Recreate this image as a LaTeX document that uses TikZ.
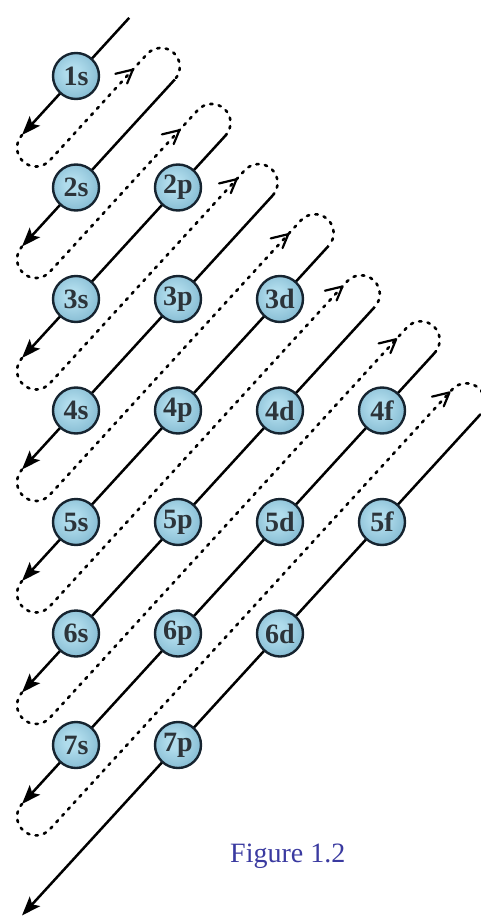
\documentclass[tikz,border=0pt]{standalone}
\usepackage{fontspec}
\setmainfont{Liberation Serif}
\usetikzlibrary{arrows.meta}
\definecolor{bin}{RGB}{176,220,236}
\definecolor{bout}{RGB}{92,156,186}
\definecolor{rimc}{RGB}{22,36,48}
\definecolor{txtc}{RGB}{44,52,58}
\definecolor{figblue}{RGB}{58,58,160}
\pgfdeclareradialshading{orbshade}{\pgfpoint{-4bp}{4bp}}{color(0bp)=(bin); color(8bp)=(bin); color(50bp)=(bout); color(100bp)=(bout)}
\tikzset{
  orb/.style={circle, draw=rimc, line width=2.4pt, shade, shading=orbshade,
    minimum size=46pt, inner sep=0pt, text=txtc,
    font=\fontsize{28}{28}\selectfont\bfseries},
  fillline/.style={line width=2.5pt, -{Stealth[length=19pt,width=14pt,inset=4pt]}},
  loopline/.style={line width=2.6pt, line cap=round, dash pattern=on 2.4pt off 6.2pt},
  markline/.style={line width=2.2pt, line cap=round, line join=round}
}
\begin{document}
\begin{tikzpicture}[x=1pt,y=1pt]
\useasboundingbox (0,0) rectangle (481,-920);
\clip (0,0) rectangle (481,-920);
\begin{scope}[shift={(76,-76)}, rotate=47.548]
  \foreach \k/\ut in {1/78.8,2/64.2,3/57.1,4/44.5,5/45.3,6/31.4,7/37.9,8/22.7}{
    \pgfmathsetmacro\vv{75.26*(\k-1)}
    \pgfmathsetmacro\ub{-80-1.09304*\vv}
    \coordinate (t\k) at (\ut,-\vv);
    \coordinate (b\k) at (\ub,-\vv);
  }
  \foreach \k/\ut/\um in {1/64.2/43.1,2/57.1/29.8,3/44.5/32.2,4/45.3/26.6,5/31.4/24.5,6/37.9/21.9,7/22.7/18.6}{
    \pgfmathsetmacro\vv{75.26*(\k-1)}
    \pgfmathsetmacro\vm{\vv+37.63}
    \draw[loopline] (b\k) arc[start angle=90,end angle=270,radius=18.815]
       -- (\ut,-\vm) arc[start angle=90,end angle=-90,radius=18.815];
    \coordinate (m\k) at (\um,-\vm);
    \draw[markline] ({\um+18*cos(146)},{-\vm+18*sin(146)}) -- (m\k)
       -- ({\um+15*cos(200)},{-\vm+15*sin(200)});
  }
\end{scope}
\foreach \k in {1,...,8}{
  \draw[fillline] (t\k) -- (b\k);
}
\foreach \n/\l/\s in {1/0/s,2/0/s,2/1/p,3/0/s,3/1/p,3/2/d,4/0/s,4/1/p,4/2/d,4/3/f,5/0/s,5/1/p,5/2/d,5/3/f,6/0/s,6/1/p,6/2/d,7/0/s,7/1/p}{
  \node[orb] (o\n\s) at ({76+102*\l},{-76-111.5*(\n-1)}) {\n\s};
}
\node[anchor=base west, inner sep=0pt, text=figblue, font=\fontsize{28}{28}\selectfont] (cap) at (230,-862) {Figure 1.2};
\end{tikzpicture}
\end{document}
